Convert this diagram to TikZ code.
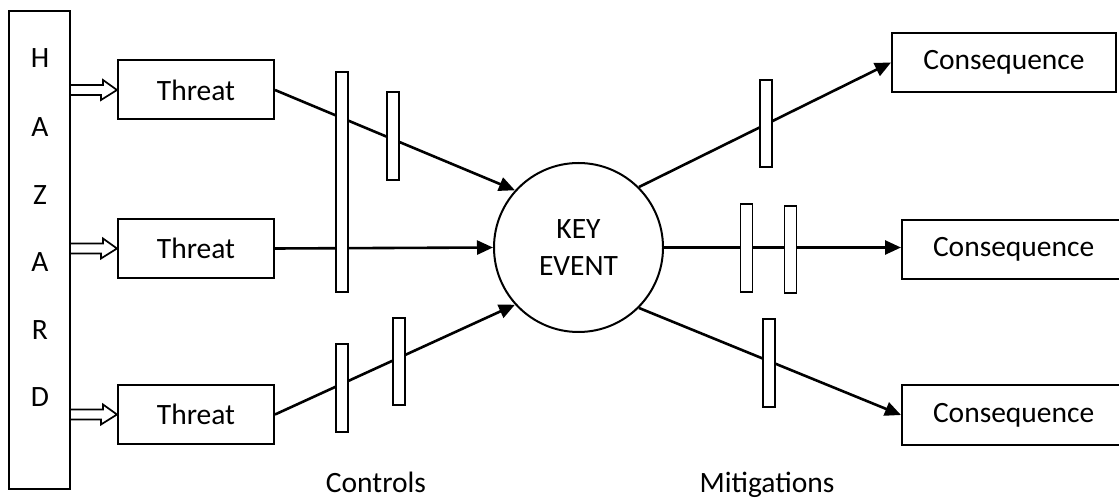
\documentclass[tikz,border=0pt]{standalone}
\usepackage{fontspec}
\setmainfont{Carlito}
\usetikzlibrary{arrows.meta,calc}
\begin{document}
\begin{tikzpicture}[x=1pt,y=-1pt,
  txt/.style={font=\fontsize{29.5}{35}\selectfont},
  box/.style={txt,draw,line width=2pt,inner sep=0pt,minimum height=59pt},
  barrier/.style={draw,fill=white,line width=1.8pt,inner sep=0pt,minimum width=12pt},
  conn/.style={line width=2.6pt,-{Triangle[length=16pt,width=14pt]}},
  hollow/.style={draw,fill=white,line width=1.7pt,line join=miter}]
\useasboundingbox (0,0) rectangle (1119,502);

% hazard column
\node[draw,line width=2pt,inner sep=0pt,minimum width=61pt,minimum height=478pt] (haz) at (39.5,250) {};
\node[txt] (h1) at (40,58) {H};
\node[txt] (h2) at (40,127) {A};
\node[txt] (h3) at (40,195) {Z};
\node[txt] (h4) at (40,262) {A};
\node[txt] (h5) at (40,330) {R};
\node[txt] (h6) at (40,397) {D};

% threats
\node[box,minimum width=156pt] (t1) at (196,90) {Threat};
\node[box,minimum width=156pt] (t2) at (196,248.5) {Threat};
\node[box,minimum width=156pt] (t3) at (196,414.5) {Threat};

% key event
\node[draw,circle,line width=2pt,minimum size=169pt,inner sep=0pt,align=center,
      font=\fontsize{29.5}{37}\selectfont] (key) at (578.5,247.5) {KEY\\EVENT};

% consequences
\node[box,minimum width=224pt] (c1) at (1004,62.5) {Consequence};
\node[box,minimum width=222pt,text width=200pt,align=left] (c2) at (1013,249.5) {\hspace*{20pt}Consequence};
\node[box,minimum width=222pt,text width=200pt,align=left] (c3) at (1013,415) {\hspace*{20pt}Consequence};

% hollow arrows hazard -> threats
\foreach \t in {t1,t2,t3}{
  \path[hollow] ($(haz.east |- \t.west)+(0,-5)$) -- ++(32,0) -- ++(0,-5) -- (\t.west)
     -- ++(-16,10) -- ++(0,-5) -- ($(haz.east |- \t.west)+(0,5)$);
}

% connectors
\draw[conn] (t1.east) -- (key.138);
\draw[conn] (t2.east) -- (key.west);
\draw[conn] (t3.east) -- (key.222);
\draw[conn] (key.45) -- (c1.west);
\draw[conn] (key.east) -- (key.east -| c2.west);
\draw[conn] (key.-45) -- (c3.west);

% control barriers
\node[barrier,minimum height=220pt] (b1) at (342,182) {};
\node[barrier,minimum height=88pt] (b2) at (393,136) {};
\node[barrier,minimum height=88pt] (b3) at (342,388) {};
\node[barrier,minimum height=87pt] (b4) at (399,361.5) {};
% mitigation barriers
\node[barrier,minimum height=87pt] (b5) at (766,123.5) {};
\node[barrier,minimum height=88pt] (b6) at (746.5,248) {};
\node[barrier,minimum height=87pt] (b7) at (790.5,249.5) {};
\node[barrier,minimum height=88pt] (b8) at (769,363) {};

% labels
\node[txt,anchor=base] (lc) at (376,492) {Controls};
\node[txt,anchor=base] (lm) at (767,492) {Mitigations};
\end{tikzpicture}
\end{document}
